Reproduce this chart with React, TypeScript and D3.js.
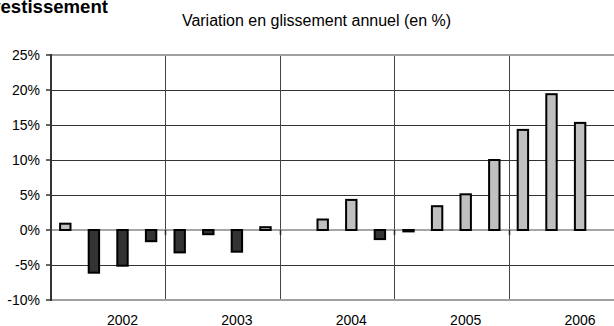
import React from "react";
import * as d3 from "d3";

const quarters = [
  "2002T1", "2002T2", "2002T3", "2002T4",
  "2003T1", "2003T2", "2003T3", "2003T4",
  "2004T1", "2004T2", "2004T3", "2004T4",
  "2005T1", "2005T2", "2005T3", "2005T4",
  "2006T1", "2006T2", "2006T3", "2006T4",
];
const values: (number | null)[] = [
  0.9, -6.1, -5.1, -1.6,
  -3.2, -0.6, -3.1, 0.4,
  null, 1.5, 4.3, -1.3,
  -0.2, 3.4, 5.1, 10.0,
  14.3, 19.4, 15.3, null,
];
const yearLabels = ["2002", "2003", "2004", "2005", "2006"];
const yTicks = [25, 20, 15, 10, 5, 0, -5, -10];
const title = "Variation en glissement annuel (en %)";
const heading = "Investissement";

const W = 614;
const H = 326;
const left = 51;
const top = 55;
const bottom = 300;
const step = 28.6;

export default function App() {
  const x = d3.scaleBand<string>().domain(quarters).range([left, left + step * quarters.length]).padding(0);
  const y = d3.scaleLinear().domain([-10, 25]).range([bottom, top]);
  const bw = x.bandwidth();
  const barW = 10.4;
  const font = "'Liberation Sans', Arial, sans-serif";
  const right = Math.min(W, left + step * quarters.length);
  const gridXs = d3.range(4, quarters.length, 4).map((i) => x(quarters[i])!);

  return (
    <svg width={W} height={H} style={{ position: "absolute", left: 0, top: 0, background: "#fff" }}>
      <text x={108} y={12.5} textAnchor="end" fontFamily={font} fontWeight="bold" fontSize={18.6} fill="#000">
        {heading}
      </text>
      <text x={316.5} y={26} textAnchor="middle" fontFamily={font} fontSize={16} fill="#000">
        {title}
      </text>
      {/* horizontal gridlines */}
      {yTicks.filter((t) => t !== 25 && t !== -10 && t !== 0).map((t) => (
        <line key={"h" + t} x1={left} x2={right} y1={Math.round(y(t)) + 0.5} y2={Math.round(y(t)) + 0.5} stroke="#333" strokeWidth={1} />
      ))}
      {/* vertical gridlines */}
      {gridXs.map((gx, i) => (
        <line key={"v" + i} x1={Math.round(gx) + 0.5} x2={Math.round(gx) + 0.5} y1={top} y2={bottom} stroke="#444" strokeWidth={1} />
      ))}
      {/* top and bottom border */}
      <line x1={left} x2={right} y1={top} y2={top} stroke="#a0a0a0" strokeWidth={2} />
      <line x1={left} x2={right} y1={bottom} y2={bottom} stroke="#a0a0a0" strokeWidth={2} />
      {/* zero axis */}
      <line x1={left} x2={right} y1={y(0)} y2={y(0)} stroke="#888" strokeWidth={1.5} />
      {gridXs.map((gx, i) => (
        <line key={"zt" + i} x1={Math.round(gx) + 0.5} x2={Math.round(gx) + 0.5} y1={y(0)} y2={y(0) + 5} stroke="#222" strokeWidth={1.5} />
      ))}
      {/* bars */}
      {quarters.map((q, i) => {
        const v = values[i];
        if (v === null) return null;
        const cx = x(q)! + bw / 2;
        const y0 = y(Math.max(0, v));
        const y1 = y(Math.min(0, v));
        return (
          <rect
            key={q}
            x={cx - barW / 2}
            y={y0}
            width={barW}
            height={Math.max(0.5, y1 - y0)}
            fill={v < 0 ? "#333333" : "#c0c0c0"}
            stroke="#000"
            strokeWidth={2}
          />
        );
      })}
      {/* left axis */}
      <line x1={left} x2={left} y1={top - 1} y2={bottom + 1} stroke="#333" strokeWidth={2} />
      {yTicks.map((t) => (
        <g key={"yt" + t}>
          <line x1={left - 5} x2={left} y1={y(t)} y2={y(t)} stroke="#333" strokeWidth={1.5} />
          <text x={40} y={y(t) + 5} textAnchor="end" fontFamily={font} fontSize={14} fill="#000">
            {t + "%"}
          </text>
        </g>
      ))}
      {/* year labels */}
      {yearLabels.map((yl, i) => (
        <text key={yl} x={x(quarters[i * 4 + 2])! + bw / 2} y={324.5} textAnchor="middle" fontFamily={font} fontSize={14} fill="#000">
          {yl}
        </text>
      ))}
    </svg>
  );
}
